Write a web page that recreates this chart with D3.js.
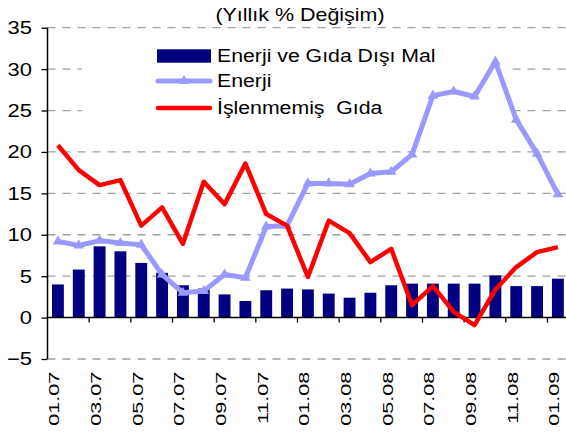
<!DOCTYPE html>
<html>
<head>
<meta charset="utf-8">
<script src="https://cdn.jsdelivr.net/npm/d3@7"></script>
<style>
  body { margin: 0; background: #fff; }
  text { font-family: "Liberation Sans", Arial, sans-serif; fill: #000; white-space: pre; }
</style>
</head>
<body>
<div id="chart"></div>
<script>
// data
var months = ["01.07","02.07","03.07","04.07","05.07","06.07","07.07","08.07","09.07","10.07","11.07","12.07",
              "01.08","02.08","03.08","04.08","05.08","06.08","07.08","08.08","09.08","10.08","11.08","12.08","01.09"];
var coreGoods = [4.0,5.8,8.6,8.0,6.6,5.4,3.9,3.5,2.8,2.0,3.3,3.5,3.4,2.9,2.4,3.0,3.9,4.1,4.1,4.1,4.1,5.1,3.8,3.8,4.7];
var energy = [9.2,8.7,9.3,9.0,8.8,5.2,3.0,3.2,5.2,4.8,11.0,11.1,16.2,16.2,16.1,17.4,17.6,19.7,26.8,27.3,26.7,30.9,23.9,19.8,14.9];
var unprocessedFood = [20.8,17.8,16.0,16.6,11.1,13.3,8.9,16.4,13.7,18.6,12.5,11.1,4.9,11.7,10.2,6.7,8.3,1.5,3.8,0.7,-0.9,3.4,6.1,7.9,8.5];
var yTicks = [-5,0,5,10,15,20,25,30,35];
var seriesNames = ["Enerji ve Gıda Dışı Mal", "Enerji", "İşlenmemiş  Gıda"];
var title = "(Yıllık % Değişim)";

var width = 566, height = 435;
var plotLeft = 47.5, plotRight = 568.3, plotTop = 27.7, plotBottom = 359;

var svg = d3.select("#chart").append("svg")
    .attr("width", width)
    .attr("height", height);

var x = d3.scaleBand()
    .domain(months)
    .range([plotLeft, plotRight])
    .paddingInner(0.43)
    .paddingOuter(0.215);

var y = d3.scaleLinear()
    .domain([-5, 35])
    .range([plotBottom, plotTop]);

var cx = function(d) { return x(d) + x.bandwidth() / 2; };

// gridlines
svg.append("g").selectAll("line")
  .data(yTicks.filter(function(d) { return d != 0; }))
  .enter().append("line")
    .attr("x1", plotLeft).attr("x2", width)
    .attr("y1", function(d) { return y(d); })
    .attr("y2", function(d) { return y(d); })
    .attr("stroke", "#a0a0a0")
    .attr("stroke-width", 1.3)
    .attr("stroke-dasharray", "8,7");

// legend background hides the grid
svg.append("rect")
    .attr("x", 82).attr("y", 34)
    .attr("width", 426).attr("height", 92)
    .attr("fill", "#fff");

// bars
svg.append("g").selectAll("rect")
  .data(months)
  .enter().append("rect")
    .attr("x", function(d) { return x(d); })
    .attr("width", x.bandwidth())
    .attr("y", function(d, i) { return y(Math.max(0, coreGoods[i])); })
    .attr("height", function(d, i) { return Math.abs(y(coreGoods[i]) - y(0)); })
    .attr("fill", "#000080");

// y axis
var yAxis = svg.append("g")
    .attr("transform", "translate(" + plotLeft + ",0)")
    .call(d3.axisLeft(y).tickValues(yTicks).tickSize(6));
yAxis.select(".domain").attr("stroke", "#000").attr("stroke-width", 1.5).attr("d", "M0," + plotBottom + "V" + plotTop);
yAxis.selectAll(".tick line").attr("stroke", "#000").attr("stroke-width", 1.3);
yAxis.selectAll(".tick text")
    .attr("font-size", 18)
    .attr("x", -15.5 / 1.22)
    .attr("dy", "0.33em")
    .attr("transform", "scale(1.22,1)");
yAxis.attr("font-family", null).attr("font-size", null);

// x axis line at zero with ticks every two months
svg.append("line")
    .attr("x1", plotLeft).attr("x2", width)
    .attr("y1", y(0)).attr("y2", y(0))
    .attr("stroke", "#000").attr("stroke-width", 1.5);

svg.append("g").selectAll("line")
  .data(months.filter(function(d, i) { return i > 0 && i % 2 == 0; }))
  .enter().append("line")
    .attr("x1", function(d) { return cx(d) - x.step() / 2; })
    .attr("x2", function(d) { return cx(d) - x.step() / 2; })
    .attr("y1", y(0)).attr("y2", y(0) + 5)
    .attr("stroke", "#000").attr("stroke-width", 1.3);

// category labels, below the plot
var labelScale = 1.44;
svg.append("g").selectAll("text")
  .data(months.filter(function(d, i) { return i % 2 == 0; }))
  .enter().append("text")
    .attr("transform", function(d) {
      return "translate(" + (cx(d) + 1.4) + "," + y(0) + ") rotate(-90) scale(" + labelScale + ",1)";
    })
    .attr("x", -54.1 / labelScale)
    .attr("text-anchor", "end")
    .attr("font-size", 15)
    .text(function(d) { return d; });

// lines
var line = function(values) {
  return d3.line()
    .x(function(d, i) { return cx(months[i]); })
    .y(function(d) { return y(d); })(values);
};

svg.append("path")
    .attr("d", line(energy))
    .attr("fill", "none")
    .attr("stroke", "#9999ff")
    .attr("stroke-width", 5)
    .attr("stroke-linejoin", "round");

svg.append("g").selectAll("path")
  .data(energy)
  .enter().append("path")
    .attr("d", d3.symbol(d3.symbolTriangle, 48))
    .attr("transform", function(d, i) { return "translate(" + cx(months[i]) + "," + y(d) + ")"; })
    .attr("fill", "#9999ff");

svg.append("path")
    .attr("d", line(unprocessedFood))
    .attr("fill", "none")
    .attr("stroke", "#ff0000")
    .attr("stroke-width", 4.5)
    .attr("stroke-linejoin", "round");

// title
svg.append("text")
    .attr("transform", "translate(300,21) scale(1.16,1)")
    .attr("text-anchor", "middle")
    .attr("font-size", 18.5)
    .text(title);

// legend
var legend = svg.append("g");
var rowY = [56, 81, 108];

legend.append("rect")
    .attr("x", 157).attr("y", rowY[0] - 6.7)
    .attr("width", 54).attr("height", 13.4)
    .attr("fill", "#000080");

legend.append("line")
    .attr("x1", 158).attr("x2", 210)
    .attr("y1", rowY[1]).attr("y2", rowY[1])
    .attr("stroke", "#9999ff").attr("stroke-width", 5)
    .attr("stroke-linecap", "round");
legend.append("path")
    .attr("d", d3.symbol(d3.symbolTriangle, 48))
    .attr("transform", "translate(184," + rowY[1] + ")")
    .attr("fill", "#9999ff");

legend.append("line")
    .attr("x1", 158).attr("x2", 210)
    .attr("y1", rowY[2]).attr("y2", rowY[2])
    .attr("stroke", "#ff0000").attr("stroke-width", 4.5)
    .attr("stroke-linecap", "round");

legend.selectAll("text")
  .data(seriesNames)
  .enter().append("text")
    .attr("transform", function(d, i) { return "translate(217," + (rowY[i] + 6.3) + ") scale(1.15,1)"; })
    .attr("font-size", 18.5)
    .text(function(d) { return d; });
</script>
</body>
</html>
